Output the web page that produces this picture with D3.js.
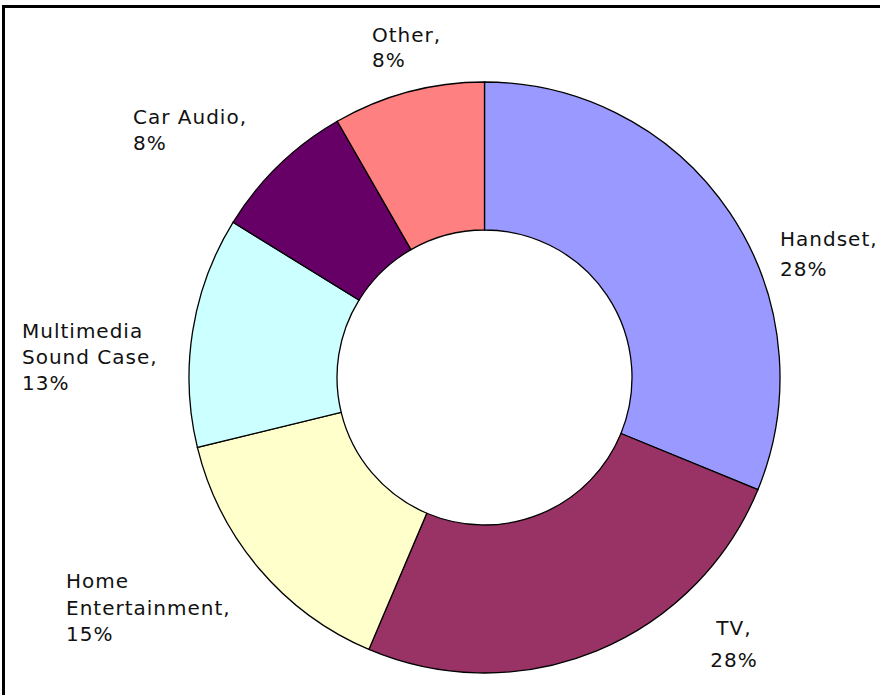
<!DOCTYPE html>
<html>
<head>
<meta charset="utf-8">
<script src="https://cdn.jsdelivr.net/npm/d3@7"></script>
<style>
  body { margin: 0; background: #fff; }
  svg text { font-family: "DejaVu Sans", Verdana, sans-serif; font-size: 20px; fill: #111; letter-spacing: 1px; }
</style>
</head>
<body>
<div id="chart"></div>
<script>
// segments, clockwise from 12 o'clock
const categories = ["Handset", "TV", "Home Entertainment", "Multimedia Sound Case", "Car Audio", "Other"];
// slice sizes as drawn in the picture (the angles differ a bit from the printed percentages)
const sliceShares = [31.2, 25.2, 14.8, 12.6, 7.9, 8.3];
// percentages printed in the labels
const labelPercents = ["28%", "28%", "15%", "13%", "8%", "8%"];
const labelLines = [
    ["Handset,"], ["TV,"], ["Home", "Entertainment,"], ["Multimedia", "Sound Case,"], ["Car Audio,"], ["Other,"]
];
const colors = ["#9999ff", "#993366", "#ffffcc", "#ccffff", "#660066", "#ff8080"];

const width = 880, height = 695;
const cx = 484.5, cy = 377.5, outerR = 295.5, innerR = 147.5;

// label placement (first baseline, anchor, line gap)
const labelPos = [
    { x: 780, y: 246, anchor: "start", gap: 30 },
    { x: 734, y: 635, anchor: "middle", gap: 32 },
    { x: 66, y: 588, anchor: "start", gap: 26.5 },
    { x: 22, y: 338, anchor: "start", gap: 26 },
    { x: 133, y: 124, anchor: "start", gap: 26 },
    { x: 372, y: 42, anchor: "start", gap: 25 }
];

const svg = d3.select("#chart")
    .append("svg")
    .attr("width", width)
    .attr("height", height);

// frame (right and bottom sides fall outside the picture)
svg.append("rect")
    .attr("x", 3.5)
    .attr("y", 6.5)
    .attr("width", width + 10)
    .attr("height", height + 10)
    .attr("fill", "none")
    .attr("stroke", "#000")
    .attr("stroke-width", 3);

const pie = d3.pie().sort(null).value(d => d);
const arc = d3.arc().innerRadius(innerR).outerRadius(outerR);

const g = svg.append("g").attr("transform", `translate(${cx},${cy})`);

g.selectAll("path.slice")
    .data(pie(sliceShares))
    .join("path")
    .attr("class", "slice")
    .attr("d", arc)
    .attr("fill", (d, i) => colors[i])
    .attr("stroke", "#000")
    .attr("stroke-width", 1.3);

// labels
categories.forEach((cat, i) => {
    const p = labelPos[i];
    const lines = labelLines[i].concat([labelPercents[i]]);
    const t = svg.append("text")
        .attr("x", p.x)
        .attr("y", p.y)
        .attr("text-anchor", p.anchor);
    lines.forEach((line, j) => {
        t.append("tspan")
            .attr("x", p.x)
            .attr("y", p.y + j * p.gap)
            .text(line);
    });
});
</script>
</body>
</html>
